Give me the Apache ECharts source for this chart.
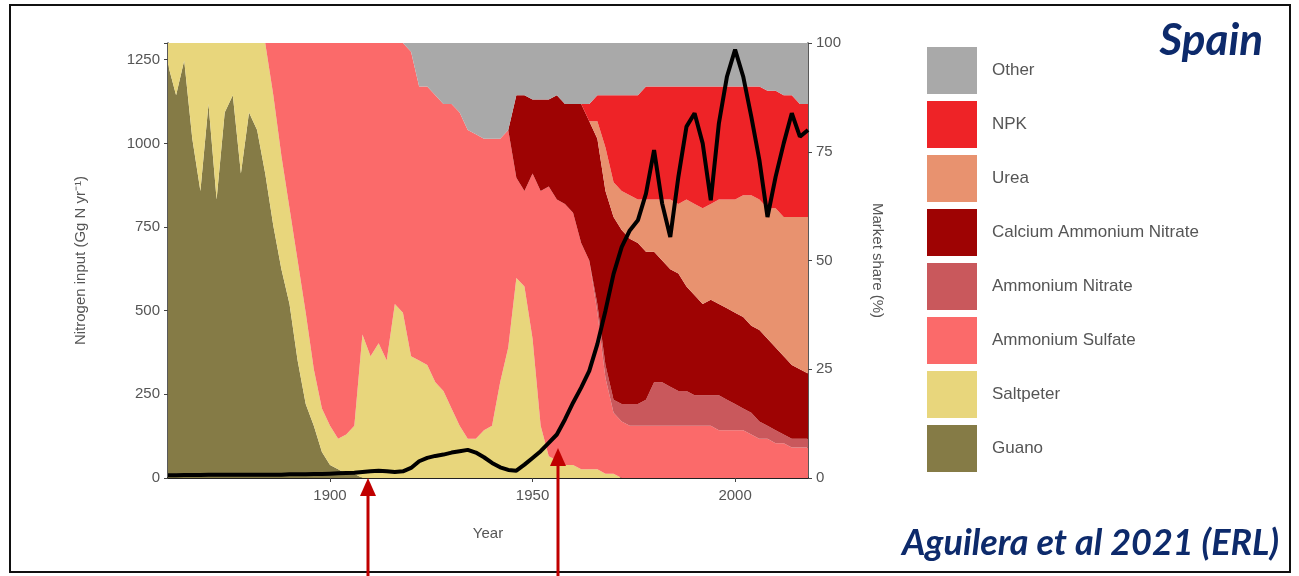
<!DOCTYPE html>
<html>
<head>
<meta charset="utf-8">
<script src="https://cdn.jsdelivr.net/npm/echarts@6/dist/echarts.min.js"></script>
<style>
html,body{margin:0;padding:0;background:#fff;}
#chart{width:1299px;height:576px;}
</style>
</head>
<body>
<div id="chart"></div>
<script>
// ---- DATA ----
const years = [1860,1862,1864,1866,1868,1870,1872,1874,1876,1878,1880,1882,1884,1886,1888,1890,1892,1894,1896,1898,
  1900,1902,1904,1906,1908,1910,1912,1914,1916,1918,1920,1922,1924,1926,1928,1930,1932,1934,1936,1938,
  1940,1942,1944,1946,1948,1950,1952,1954,1956,1958,1960,1962,1964,1966,1968,1970,1972,1974,1976,1978,
  1980,1982,1984,1986,1988,1990,1992,1994,1996,1998,2000,2002,2004,2006,2008,2010,2012,2014,2016,2018];

const guano = [95,88,96,78,66,86,64,84,88,70,84,80,70,58,48,40,27,17,12,6,
  3,2,1,1,0,0,0,0,0,0,0,0,0,0,0,0,0,0,0,0,
  0,0,0,0,0,0,0,0,0,0,0,0,0,0,0,0,0,0,0,0,
  0,0,0,0,0,0,0,0,0,0,0,0,0,0,0,0,0,0,0,0];
const saltpeter = [5,12,4,22,34,14,36,16,12,30,16,20,30,30,26,22,23,21,13,10,
  9,7,9,11,33,28,31,27,40,38,28,27,26,22,20,16,12,9,9,11,
  12,22,30,46,44,32,12,5,4,3,3,2,2,2,1,1,0,0,0,0,
  0,0,0,0,0,0,0,0,0,0,0,0,0,0,0,0,0,0,0,0];
const ammoniumSulfate = [0,0,0,0,0,0,0,0,0,0,0,0,0,12,26,38,50,62,75,84,
  88,91,90,88,67,72,69,73,60,62,70,63,64,66,66,70,72,71,70,67,
  66,56,50,23,22,38,54,62,60,60,58,52,48,36,22,14,13,12,12,12,
  12,12,12,12,12,12,12,12,11,11,11,11,10,9,9,8,8,7,7,7];
const ammoniumNitrate = [0,0,0,0,0,0,0,0,0,0,0,0,0,0,0,0,0,0,0,0,
  0,0,0,0,0,0,0,0,0,0,0,0,0,0,0,0,0,0,0,0,
  0,0,0,0,0,0,0,0,0,0,0,0,0,2,3,3,4,5,5,6,
  10,10,9,8,8,7,7,7,8,7,6,5,5,4,3,3,2,2,2,2];
const calciumAmmoniumNitrate = [0,0,0,0,0,0,0,0,0,0,0,0,0,0,0,0,0,0,0,0,
  0,0,0,0,0,0,0,0,0,0,0,0,0,0,0,0,0,0,0,0,
  0,0,0,19,22,17,21,20,24,23,25,32,32,38,40,42,40,38,37,34,
  30,28,27,27,24,23,21,22,21,21,21,21,20,21,20,19,18,17,16,15];
const urea = [0,0,0,0,0,0,0,0,0,0,0,0,0,0,0,0,0,0,0,0,
  0,0,0,0,0,0,0,0,0,0,0,0,0,0,0,0,0,0,0,0,
  0,0,0,0,0,0,0,0,0,0,0,0,0,4,10,8,9,10,10,12,
  12,14,16,16,20,21,22,22,24,25,26,28,30,30,30,32,32,34,35,36];
const npk = [0,0,0,0,0,0,0,0,0,0,0,0,0,0,0,0,0,0,0,0,
  0,0,0,0,0,0,0,0,0,0,0,0,0,0,0,0,0,0,0,0,
  0,0,0,0,0,0,0,0,0,0,0,0,4,6,12,20,22,23,24,26,
  26,26,26,27,26,27,28,27,26,26,26,25,25,26,27,27,28,28,26,26];
const other = [0,0,0,0,0,0,0,0,0,0,0,0,0,0,0,0,0,0,0,0,
  0,0,0,0,0,0,0,0,0,0,2,10,10,12,14,14,16,20,21,22,
  22,22,20,12,12,13,13,13,12,14,14,14,14,12,12,12,12,12,12,10,
  10,10,10,10,10,10,10,10,10,10,10,10,10,10,11,11,12,12,14,14];
const nitrogenInput = [8,8,9,9,9,10,10,10,10,10,10,10,10,10,10,11,11,11,12,12,
  13,14,15,16,18,20,22,20,18,20,30,50,60,66,70,76,80,84,76,62,
  45,32,24,22,40,60,80,105,130,175,225,270,320,400,500,610,690,740,770,850,
  980,820,720,900,1050,1090,1000,830,1060,1200,1280,1200,1080,950,780,900,1000,1090,1020,1040];

const seriesNames = ['Guano','Saltpeter','Ammonium Sulfate','Ammonium Nitrate','Calcium Ammonium Nitrate','Urea','NPK','Other'];
const seriesValues = [guano, saltpeter, ammoniumSulfate, ammoniumNitrate, calciumAmmoniumNitrate, urea, npk, other];
const seriesColors = ['#857b46','#e8d67c','#fb6a6a','#c9585c','#9e0303','#e8926f','#ee2327','#a9a9a9'];
const legendOrder = ['Other','NPK','Urea','Calcium Ammonium Nitrate','Ammonium Nitrate','Ammonium Sulfate','Saltpeter','Guano'];
const xTicks = ['1900', '1950', '2000'];
const arrowYears = [1909.4, 1956.3];
const arrowTipValues = [0, 90];

// ---- CHART ----
const chart = echarts.init(document.getElementById('chart'), null, {renderer: 'canvas'});
const labelFont = {color: '#555', fontSize: 15, fontFamily: 'Liberation Sans, Arial, sans-serif'};
const cats = years.map(String);

const series = seriesNames.map((name, k) => ({
  name: name,
  type: 'line',
  stack: 'share',
  yAxisIndex: 1,
  showSymbol: false,
  symbol: 'none',
  silent: true,
  lineStyle: {width: 0},
  itemStyle: {color: seriesColors[k]},
  areaStyle: {color: seriesColors[k], opacity: 1},
  data: seriesValues[k],
  z: 1
}));
series.push({
  name: 'Nitrogen input',
  type: 'line',
  yAxisIndex: 0,
  showSymbol: false,
  symbol: 'none',
  silent: true,
  lineStyle: {width: 4, color: '#000'},
  itemStyle: {color: '#000'},
  data: nitrogenInput,
  z: 5
});

const showTick = (idx, val) => xTicks.indexOf(String(val)) >= 0;

chart.setOption({
  animation: false,
  backgroundColor: '#fff',
  grid: {left: 168, right: 491, top: 43, bottom: 98},
  title: [
    {text: 'Spain', right: 31, top: 14,
     textStyle: {color: '#0d2a6b', fontSize: 44, fontWeight: 'bold', fontStyle: 'italic', fontFamily: 'Lato, Open Sans, sans-serif'}},
    {text: 'Aguilera et al 2021 (ERL)', right: 15, top: 520,
     textStyle: {color: '#0d2a6b', fontSize: 36, fontWeight: 'bold', fontStyle: 'italic', fontFamily: 'Lato, Open Sans, sans-serif'}}
  ],
  legend: {
    data: legendOrder,
    orient: 'vertical',
    left: 922,
    top: 42,
    itemWidth: 50,
    itemHeight: 47,
    itemGap: 7,
    icon: 'rect',
    selectedMode: false,
    textStyle: {color: '#555', fontSize: 17, fontFamily: 'Liberation Sans, Arial, sans-serif', padding: [0, 0, 0, 10]}
  },
  xAxis: {
    type: 'category',
    data: cats,
    boundaryGap: false,
    name: 'Year',
    nameLocation: 'middle',
    nameGap: 48,
    nameTextStyle: labelFont,
    axisLine: {show: true, lineStyle: {color: '#222', width: 2}},
    axisTick: {show: true, interval: showTick, length: 4, lineStyle: {color: '#444'}},
    axisLabel: Object.assign({interval: showTick, margin: 10}, labelFont),
    splitLine: {show: false}
  },
  yAxis: [
    {
      type: 'value',
      min: 0,
      max: 1300,
      interval: 250,
      position: 'left',
      name: 'Nitrogen input (Gg N yr⁻¹)',
      nameLocation: 'middle',
      nameGap: 80,
      nameTextStyle: labelFont,
      axisLine: {show: true, lineStyle: {color: '#222', width: 1.5}},
      axisTick: {show: true, length: 4, lineStyle: {color: '#444'}},
      axisLabel: Object.assign({margin: 8, formatter: v => (v % 250 === 0 ? String(v) : '')}, labelFont),
      splitLine: {show: false}
    },
    {
      type: 'value',
      min: 0,
      max: 100,
      interval: 25,
      position: 'right',
      name: 'Market share (%)',
      nameLocation: 'middle',
      nameRotate: -90,
      nameGap: 62,
      nameTextStyle: labelFont,
      axisLine: {show: true, lineStyle: {color: '#222', width: 1.5}},
      axisTick: {show: true, length: 4, lineStyle: {color: '#444'}},
      axisLabel: Object.assign({margin: 8}, labelFont),
      splitLine: {show: false}
    }
  ],
  series: series
});

// annotation arrows and frame
const graphics = [{
  type: 'rect', shape: {x: 10, y: 5, width: 1280, height: 567},
  style: {fill: 'none', stroke: '#111', lineWidth: 2}, z: 100, silent: true
}];
const x0 = chart.convertToPixel({xAxisIndex: 0}, String(years[0]));
const x1 = chart.convertToPixel({xAxisIndex: 0}, String(years[years.length - 1]));
arrowYears.forEach((yr, i) => {
  const x = Math.round(x0 + (yr - years[0]) / (years[years.length - 1] - years[0]) * (x1 - x0));
  const tip = chart.convertToPixel({yAxisIndex: 0}, arrowTipValues[i]);
  graphics.push({type: 'rect', shape: {x: x - 1.5, y: tip + 16, width: 3, height: 576 - tip - 16},
    style: {fill: '#c00000'}, z: 100, silent: true});
  graphics.push({type: 'polygon', shape: {points: [[x, tip], [x - 8, tip + 18], [x + 8, tip + 18]]},
    style: {fill: '#c00000'}, z: 100, silent: true});
});
chart.setOption({graphic: graphics});
</script>
</body>
</html>
